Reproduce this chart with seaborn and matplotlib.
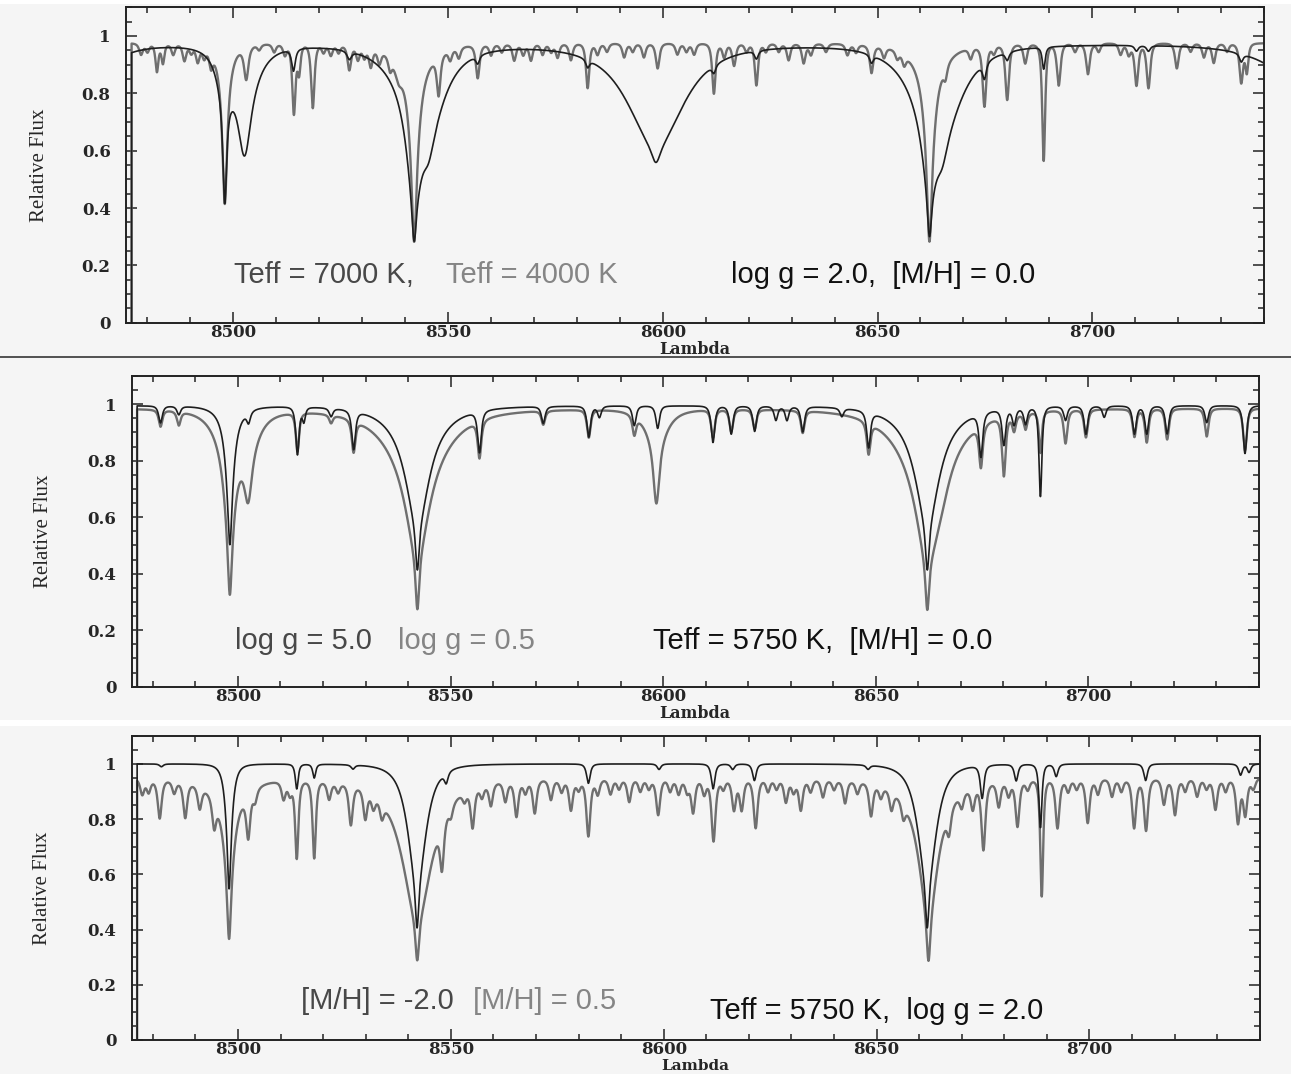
import numpy as np
import pandas as pd
import matplotlib
matplotlib.use("Agg")
import matplotlib.pyplot as plt
from matplotlib.ticker import MultipleLocator, FuncFormatter
from matplotlib.lines import Line2D
from matplotlib.patches import Rectangle
import seaborn as sns

# ---------------- data ----------------
# Every spectrum is given as a line list:
# line centre (Angstrom), central depth and half width at half depth (Angstrom).
wavelength_limits = (8475.0, 8740.0)
flux_limits = (0.0, 1.1)
spec_start = 8476.3       # spectra begin here, rising from zero flux
spec_end = 8740.0

# Panel 1 -- Teff = 7000 K (dark curve), log g = 2.0, [M/H] = 0.0
t7000_cont = 0.972
t7000_center = [8467.3, 8498.0, 8498.0, 8502.6, 8502.6, 8514.0, 8527.0,
                8542.1, 8542.1, 8542.1, 8545.4, 8545.4, 8556.9, 8582.5,
                8598.4, 8598.4, 8611.9, 8621.8, 8648.6,
                8662.1, 8662.1, 8662.1, 8665.0, 8665.0,
                8674.9, 8680.2, 8688.7, 8710.3, 8713.1, 8734.7, 8750.0]
t7000_depth = [0.10, 0.45, 0.15, 0.28, 0.15, 0.08, 0.03,
               0.35, 0.40, 0.12, 0.12, 0.20, 0.03, 0.03,
               0.10, 0.36, 0.03, 0.03, 0.03,
               0.35, 0.33, 0.12, 0.12, 0.22,
               0.06, 0.03, 0.08, 0.02, 0.02, 0.03, 0.15]
t7000_width = [6.1, 0.5, 2.0, 1.6, 4.0, 0.5, 0.6,
               0.55, 2.0, 7.0, 1.5, 4.5, 0.5, 0.5,
               1.2, 7.7, 0.5, 0.5, 0.5,
               0.55, 2.0, 7.0, 1.5, 5.5,
               0.5, 0.5, 0.4, 0.5, 0.5, 0.5, 9.2]

# Panel 1 -- Teff = 4000 K (grey curve)
t4000_cont = 0.975
t4000_center = [8478.5, 8480.0, 8482.2, 8483.6, 8486.0, 8488.6, 8490.2, 8491.7, 8493.2, 8494.8,
                8498.0, 8498.0, 8503.0, 8506.0, 8509.5, 8512.0, 8514.1, 8515.3, 8518.5,
                8521.0, 8522.7, 8524.5, 8527.0, 8529.0, 8530.5, 8532.0, 8534.0, 8536.5, 8538.5,
                8542.1, 8542.1, 8542.1, 8547.8, 8550.5, 8552.5, 8556.9, 8560.0, 8562.5,
                8565.4, 8567.5, 8569.3, 8572.0, 8574.0, 8575.5, 8578.6, 8582.5, 8584.8,
                8587.0, 8591.0, 8593.0, 8595.6, 8598.8, 8603.4, 8605.5, 8607.3, 8611.9,
                8614.3, 8616.6, 8619.5, 8621.8, 8624.0, 8627.0, 8629.3, 8632.8, 8634.5,
                8638.0, 8643.0, 8645.0, 8648.6, 8651.5, 8654.6, 8656.2,
                8662.1, 8662.1, 8662.1, 8665.8, 8671.7, 8674.9, 8677.1, 8680.2, 8684.4,
                8688.7, 8692.2, 8696.0, 8699.0, 8701.5, 8706.6, 8708.5, 8710.3, 8713.1,
                8719.7, 8722.9, 8726.0, 8728.3, 8731.4, 8734.7, 8736.0]
t4000_depth = [0.04, 0.03, 0.10, 0.07, 0.04, 0.06, 0.03, 0.06, 0.04, 0.06,
               0.50, 0.15, 0.12, 0.02, 0.03, 0.04, 0.25, 0.10, 0.23,
               0.03, 0.04, 0.03, 0.09, 0.05, 0.04, 0.07, 0.05, 0.05, 0.06,
               0.55, 0.30, 0.08, 0.15, 0.04, 0.04, 0.12, 0.04, 0.03,
               0.06, 0.04, 0.06, 0.04, 0.03, 0.05, 0.06, 0.16, 0.04,
               0.03, 0.05, 0.03, 0.05, 0.09, 0.04, 0.03, 0.04, 0.18,
               0.05, 0.08, 0.03, 0.15, 0.03, 0.03, 0.06, 0.07, 0.04,
               0.03, 0.04, 0.03, 0.10, 0.04, 0.03, 0.04,
               0.55, 0.30, 0.08, 0.05, 0.04, 0.22, 0.03, 0.20, 0.07,
               0.42, 0.15, 0.03, 0.11, 0.03, 0.04, 0.04, 0.15, 0.16,
               0.09, 0.03, 0.05, 0.07, 0.03, 0.14, 0.10]
t4000_width = [0.5, 0.5, 0.4, 0.4, 0.5, 0.5, 0.5, 0.5, 0.5, 0.5,
               0.6, 1.8, 0.6, 0.5, 0.5, 0.5, 0.45, 0.4, 0.45,
               0.5, 0.5, 0.5, 0.5, 0.5, 0.5, 0.5, 0.5, 0.5, 1.0,
               0.6, 1.6, 5.0, 0.5, 0.5, 0.5, 0.5, 0.5, 0.5,
               0.5, 0.5, 0.5, 0.5, 0.5, 0.5, 0.5, 0.45, 0.5,
               0.5, 0.5, 0.5, 0.5, 0.5, 0.5, 0.5, 0.5, 0.45,
               0.5, 0.5, 0.5, 0.45, 0.5, 0.5, 0.5, 0.5, 0.5,
               0.5, 0.5, 0.5, 0.5, 0.5, 0.5, 0.5,
               0.6, 1.6, 5.0, 0.5, 0.5, 0.5, 0.5, 0.5, 0.5,
               0.4, 0.5, 0.5, 0.5, 0.5, 0.5, 0.5, 0.5, 0.5,
               0.5, 0.5, 0.5, 0.5, 0.5, 0.5, 0.4]

# Panel 2 -- log g = 5.0 (dark curve), Teff = 5750 K, [M/H] = 0.0
g50_cont = 0.995
g50_center = [8481.8, 8486.1, 8498.1, 8498.1, 8498.1, 8502.5, 8514.0, 8515.5, 8521.9, 8527.2,
              8542.2, 8542.2, 8542.2, 8556.8, 8571.8, 8582.5, 8585.0, 8593.2, 8598.7,
              8611.7, 8616.0, 8621.5, 8626.5, 8629.1, 8632.8, 8642.0, 8648.3,
              8662.1, 8662.1, 8662.1, 8674.7, 8680.1, 8682.5, 8685.2, 8688.7, 8694.6,
              8699.4, 8703.7, 8710.8, 8713.7, 8718.5, 8727.8, 8736.8]
g50_depth = [0.06, 0.03, 0.29, 0.25, 0.05, 0.04, 0.17, 0.05, 0.03, 0.14,
             0.29, 0.35, 0.10, 0.15, 0.06, 0.11, 0.04, 0.07, 0.08,
             0.13, 0.10, 0.09, 0.05, 0.05, 0.09, 0.03, 0.13,
             0.29, 0.35, 0.10, 0.16, 0.13, 0.06, 0.06, 0.32, 0.05,
             0.10, 0.04, 0.10, 0.10, 0.10, 0.06, 0.17]
g50_width = [0.5, 0.5, 0.5, 1.2, 3.0, 0.5, 0.45, 0.4, 0.5, 0.5,
             0.5, 3.0, 7.0, 0.5, 0.5, 0.5, 0.5, 0.5, 0.5,
             0.5, 0.5, 0.5, 0.5, 0.5, 0.5, 0.5, 0.5,
             0.5, 3.0, 7.0, 0.5, 0.5, 0.5, 0.5, 0.4, 0.5,
             0.5, 0.5, 0.5, 0.5, 0.5, 0.5, 0.5]

# Panel 2 -- log g = 0.5 (grey curve)
g05_cont = 0.985
g05_center = [8481.8, 8486.1, 8498.1, 8498.1, 8498.1, 8502.4, 8502.4, 8514.0, 8521.9, 8527.2,
              8542.2, 8542.2, 8542.2, 8556.8, 8571.8, 8582.5, 8593.2, 8598.4, 8598.4,
              8611.7, 8616.0, 8621.5, 8632.8, 8648.3,
              8662.1, 8662.1, 8662.1, 8665.0, 8674.7, 8680.1, 8682.5, 8685.2, 8688.7,
              8694.6, 8699.4, 8710.8, 8713.7, 8718.5, 8727.8, 8736.8]
g05_depth = [0.06, 0.05, 0.40, 0.35, 0.12, 0.20, 0.10, 0.14, 0.03, 0.12,
             0.42, 0.40, 0.20, 0.14, 0.05, 0.10, 0.07, 0.25, 0.12,
             0.10, 0.08, 0.07, 0.08, 0.12,
             0.40, 0.40, 0.20, 0.10, 0.16, 0.22, 0.06, 0.06, 0.15,
             0.12, 0.10, 0.10, 0.12, 0.11, 0.10, 0.15]
g05_width = [0.5, 0.5, 0.5, 1.5, 4.0, 1.0, 3.0, 0.45, 0.5, 0.5,
             0.5, 3.0, 8.0, 0.5, 0.5, 0.5, 0.5, 0.8, 3.0,
             0.5, 0.5, 0.5, 0.5, 0.5,
             0.5, 3.0, 8.0, 2.5, 0.5, 0.5, 0.5, 0.5, 0.4,
             0.5, 0.5, 0.5, 0.5, 0.5, 0.5, 0.5]

# Panel 3 -- [M/H] = -2.0 (dark curve), Teff = 5750 K, log g = 2.0
mhm20_cont = 1.0
mhm20_center = [8482.0, 8497.9, 8497.9, 8513.8, 8517.9, 8527.0, 8542.05, 8542.05, 8548.9,
                8582.3, 8598.9, 8611.6, 8616.2, 8621.3, 8648.0, 8661.9, 8661.9,
                8674.8, 8682.8, 8688.5, 8692.2, 8713.2, 8735.5, 8737.5]
mhm20_depth = [0.01, 0.27, 0.25, 0.09, 0.05, 0.015, 0.30, 0.42, 0.04,
               0.07, 0.02, 0.09, 0.02, 0.06, 0.015, 0.30, 0.42,
               0.12, 0.06, 0.23, 0.045, 0.06, 0.04, 0.03]
mhm20_width = [0.5, 0.4, 1.0, 0.4, 0.4, 0.5, 0.45, 2.5, 0.5,
               0.5, 0.5, 0.5, 0.5, 0.5, 0.5, 0.45, 2.5,
               0.5, 0.5, 0.4, 0.5, 0.5, 0.5, 0.5]

# Panel 3 -- [M/H] = +0.5 (grey curve)
mhp05_cont = 0.95
mhp05_center = [8477.5, 8479.0, 8481.6, 8485.0, 8487.6, 8491.0, 8494.4,
                8497.9, 8497.9, 8497.9, 8502.4, 8504.0, 8510.7, 8512.2, 8513.8, 8517.9,
                8521.4, 8523.5, 8526.5, 8529.9, 8531.8, 8533.8,
                8542.1, 8542.1, 8542.1, 8547.9, 8550.0, 8553.2, 8555.1, 8557.3, 8559.4,
                8562.8, 8565.4, 8567.5, 8569.7, 8573.5, 8576.0, 8578.2, 8580.0, 8582.3,
                8584.5, 8587.5, 8589.5, 8591.9, 8594.5, 8596.5, 8598.7, 8601.5, 8603.5,
                8605.5, 8606.9, 8609.5, 8611.7, 8614.0, 8616.5, 8618.3, 8621.6, 8624.5,
                8626.5, 8628.7, 8630.5, 8632.2, 8634.5, 8637.4, 8640.0, 8642.6, 8645.5,
                8648.7, 8651.0, 8653.5, 8656.3,
                8662.2, 8662.2, 8662.2, 8667.0, 8670.0, 8672.6, 8675.1, 8678.7, 8681.0,
                8683.1, 8685.5, 8688.8, 8692.5, 8695.0, 8697.0, 8699.6, 8702.0, 8705.3,
                8707.5, 8710.5, 8713.3, 8717.5, 8720.1, 8722.5, 8725.3, 8727.5, 8729.6,
                8732.0, 8734.9, 8736.6, 8738.5]
mhp05_depth = [0.06, 0.05, 0.15, 0.05, 0.14, 0.09, 0.12,
               0.40, 0.30, 0.08, 0.18, 0.05, 0.07, 0.05, 0.30, 0.30,
               0.07, 0.04, 0.16, 0.12, 0.06, 0.07,
               0.35, 0.45, 0.15, 0.22, 0.05, 0.04, 0.16, 0.05, 0.09,
               0.08, 0.14, 0.05, 0.13, 0.08, 0.05, 0.12, 0.04, 0.22,
               0.06, 0.06, 0.04, 0.09, 0.05, 0.04, 0.14, 0.05, 0.06,
               0.05, 0.13, 0.06, 0.24, 0.04, 0.12, 0.12, 0.19, 0.05,
               0.04, 0.09, 0.05, 0.12, 0.05, 0.07, 0.04, 0.09, 0.05,
               0.13, 0.05, 0.08, 0.07,
               0.39, 0.45, 0.10, 0.10, 0.06, 0.09, 0.26, 0.10, 0.06,
               0.18, 0.04, 0.45, 0.19, 0.05, 0.04, 0.17, 0.06, 0.07,
               0.05, 0.19, 0.20, 0.10, 0.14, 0.05, 0.07, 0.04, 0.12,
               0.05, 0.17, 0.14, 0.04]
mhp05_width = [0.55, 0.55, 0.55, 0.55, 0.55, 0.55, 0.55,
               0.5, 1.5, 5.0, 0.55, 0.55, 0.55, 0.55, 0.45, 0.45,
               0.55, 0.55, 0.55, 0.55, 0.55, 0.55,
               0.5, 3.5, 6.0, 0.55, 0.55, 0.55, 0.55, 0.55, 0.55,
               0.55, 0.55, 0.55, 0.55, 0.55, 0.55, 0.55, 0.55, 0.55,
               0.55, 0.55, 0.55, 0.55, 0.55, 0.55, 0.55, 0.55, 0.55,
               0.55, 0.55, 0.55, 0.55, 0.55, 0.55, 0.55, 0.55, 0.55,
               0.55, 0.55, 0.55, 0.55, 0.55, 0.55, 0.55, 0.55, 0.55,
               0.55, 0.55, 0.55, 0.55,
               0.5, 2.5, 6.0, 0.55, 0.55, 0.55, 0.55, 0.55, 0.55,
               0.55, 0.55, 0.4, 0.55, 0.55, 0.55, 0.55, 0.55, 0.55,
               0.55, 0.55, 0.55, 0.55, 0.55, 0.55, 0.55, 0.55, 0.55,
               0.55, 0.55, 0.55, 0.55]

# annotation texts per panel: (dark-curve label, grey-curve label, common parameters)
panel_texts = [
    ("Teff = 7000 K,", "Teff = 4000 K", "log g = 2.0,  [M/H] = 0.0"),
    ("log g = 5.0", "log g = 0.5", "Teff = 5750 K,  [M/H] = 0.0"),
    ("[M/H] = -2.0", "[M/H] = 0.5", "Teff = 5750 K,  log g = 2.0"),
]
x_tick_step, x_minor_step = 50, 10
y_tick_step, y_minor_step = 0.2, 0.05
x_label = "Lambda"
y_label = "Relative Flux"


# ---------------- helpers ----------------
def synth(cont, centers, depths, widths, step=0.05):
    """Spectrum from a line list; widths are half widths at half depth."""
    grid = np.arange(spec_start, spec_end + step / 2, step)
    c = np.asarray(centers, float)[:, None]
    d = np.asarray(depths, float)[:, None]
    w = np.asarray(widths, float)[:, None]
    x = 0.766 * (grid[None, :] - c) / w
    prof = (1.0 + x ** 2) ** -1.5
    flux = cont * np.prod(1.0 - d * prof, axis=0)
    wl = np.concatenate([[spec_start], grid])
    fl = np.concatenate([[0.0], flux])
    return pd.DataFrame({"wavelength": wl, "flux": fl})


panels = [
    (synth(t7000_cont, t7000_center, t7000_depth, t7000_width),
     synth(t4000_cont, t4000_center, t4000_depth, t4000_width)),
    (synth(g50_cont, g50_center, g50_depth, g50_width),
     synth(g05_cont, g05_center, g05_depth, g05_width)),
    (synth(mhm20_cont, mhm20_center, mhm20_depth, mhm20_width),
     synth(mhp05_cont, mhp05_center, mhp05_depth, mhp05_width)),
]

# ---------------- styling ----------------
sns.set_style("ticks")
bg = "#f5f5f5"
plt.rcParams["font.family"] = ["DejaVu Sans"]
plt.rcParams["axes.linewidth"] = 1.4

W, H = 1291, 1074
fig = plt.figure(figsize=(W / 100, H / 100), dpi=100, facecolor=bg)

# axes boxes in pixels: (left, top, right, bottom)
axes_px = [(126, 7.3, 1264, 322.7), (131.6, 376, 1258.6, 686.7), (131.6, 736.3, 1259.7, 1040.0)]
ylabel_x_px = [40, 43, 43]
xlabel_y_px = [350, 714, 1066]
xlabel_size = [11.5, 11.5, 11]
xtick_pad = [1, 1, 0.5]

# label anchor positions (data coords): (x dark, x grey, x black, y grey labels, y black label)
text_pos = [
    (8500.2, 8549.5, 8615.8, 0.140, 0.140),
    (8499.3, 8537.7, 8597.6, 0.132, 0.132),
    (8514.9, 8555.3, 8610.8, 0.112, 0.075),
]

dark_col = "#1e1e1e"
grey_col = "#6f6f6f"
txt_dark = "#484848"
txt_grey = "#858585"
txt_black = "#111111"
sans = ["Liberation Sans", "DejaVu Sans"]
label_size = 21

# page decorations: separator line and white gaps
fig.add_artist(Line2D([0, 1], [1 - 357 / H] * 2, transform=fig.transFigure,
                      color="#444444", lw=1.3))
fig.add_artist(Rectangle((0, 1 - 726 / H), 1, 6 / H, transform=fig.transFigure,
                         facecolor="white", edgecolor="none"))
fig.add_artist(Rectangle((0, 1 - 4 / H), 1, 4 / H, transform=fig.transFigure,
                         facecolor="white", edgecolor="none"))

for k, ((l, t, r, b), (dark_df, grey_df), texts, pos) in enumerate(
        zip(axes_px, panels, panel_texts, text_pos)):
    ax = fig.add_axes([l / W, 1 - b / H, (r - l) / W, (b - t) / H])
    ax.set_facecolor(bg)
    sns.lineplot(data=grey_df, x="wavelength", y="flux", ax=ax, color=grey_col,
                 lw=1.7, estimator=None, sort=False, errorbar=None, legend=False)
    sns.lineplot(data=dark_df, x="wavelength", y="flux", ax=ax, color=dark_col,
                 lw=1.2, estimator=None, sort=False, errorbar=None, legend=False)
    ax.set_xlim(*wavelength_limits)
    ax.set_ylim(*flux_limits)
    ax.xaxis.set_major_locator(MultipleLocator(x_tick_step))
    ax.xaxis.set_minor_locator(MultipleLocator(x_minor_step))
    ax.yaxis.set_major_locator(MultipleLocator(y_tick_step))
    ax.yaxis.set_minor_locator(MultipleLocator(y_minor_step))
    ax.yaxis.set_major_formatter(FuncFormatter(lambda v, p: f"{v:g}"))
    ax.tick_params(which="both", direction="in", top=True, right=True,
                   color="#222222", width=1.1)
    ax.tick_params(which="major", length=8)
    ax.tick_params(which="minor", length=4)
    ax.tick_params(axis="x", pad=xtick_pad[k])
    ax.tick_params(axis="y", pad=11)
    for lab in ax.get_xticklabels() + ax.get_yticklabels():
        lab.set_fontfamily("DejaVu Serif")
        lab.set_fontweight("bold")
        lab.set_fontsize(12)
    for sp in ax.spines.values():
        sp.set_color("#222222")
        sp.set_visible(True)
    ax.set_xlabel(x_label, fontfamily="DejaVu Serif", fontweight="bold",
                  fontsize=xlabel_size[k], va="center")
    ax.xaxis.set_label_coords(0.5, -(xlabel_y_px[k] - b) / (b - t))
    ax.set_ylabel(y_label, fontfamily="Liberation Serif", fontsize=15, va="center")
    ax.yaxis.set_label_coords(-(l - ylabel_x_px[k]) / (r - l), 0.5)

    xd, xg, xb, yg, yb = pos
    ax.text(xd, yg, texts[0], color=txt_dark, fontsize=label_size, family=sans, va="baseline")
    ax.text(xg, yg, texts[1], color=txt_grey, fontsize=label_size, family=sans, va="baseline")
    ax.text(xb, yb, texts[2], color=txt_black, fontsize=label_size, family=sans, va="baseline")

fig.savefig("out.png", dpi=100, facecolor=bg)
